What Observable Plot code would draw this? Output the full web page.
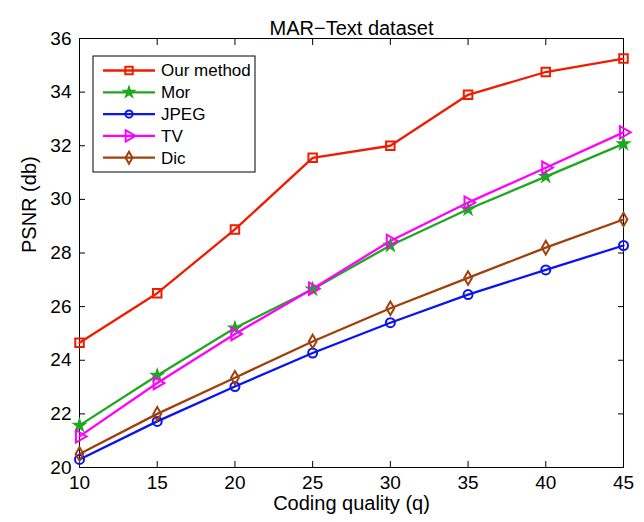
<!DOCTYPE html>
<html><head><meta charset="utf-8">
<script src="https://cdn.jsdelivr.net/npm/d3@7"></script>
<script src="https://cdn.jsdelivr.net/npm/@observablehq/plot@0.6"></script>
<style>body{margin:0;background:#fff}</style>
</head><body><div id="chart"></div>
<script>
const quality = [10, 15, 20, 25, 30, 35, 40, 45];
const seriesNames = ["Our method", "Mor", "JPEG", "TV", "Dic"];
const ourMethod = [24.65, 26.5, 28.88, 31.55, 32.0, 33.9, 34.75, 35.25];
const mor = [21.57, 23.43, 25.2, 26.65, 28.28, 29.63, 30.85, 32.07];
const jpeg = [20.3, 21.72, 23.02, 24.27, 25.4, 26.45, 27.37, 28.28];
const tv = [21.16, 23.15, 24.98, 26.67, 28.45, 29.88, 31.18, 32.5];
const dic = [20.5, 22.0, 23.35, 24.7, 25.94, 27.07, 28.2, 29.25];
const yTicks = [20, 22, 24, 26, 28, 30, 32, 34, 36];
const xTicks = [10, 15, 20, 25, 30, 35, 40, 45];
const colors = ["#f01c00", "#1fa81f", "#0a14f0", "#ff00ff", "#a0400a"];
const symbols = [d3.symbolSquare, d3.symbolStar, d3.symbolCircle, d3.symbolTriangle, d3.symbolDiamond];
const fills = ["none", "#1fa81f", "none", "none", "none"];
const rotates = [0, 0, 0, 90, 0];
const radii = [4.8, 3.7, 4.5, 4.6, 4.1];
const legendRadii = [4.2, 3.4, 3.6, 4.2, 3.6];
const values = [ourMethod, mor, jpeg, tv, dic];

const data = [];
seriesNames.forEach((s, i) => quality.forEach((q, j) => data.push({series: s, q, v: values[i][j], i})));

const font = "'Liberation Sans', Arial, sans-serif";
const marks = [
  Plot.frame({stroke: "#000", strokeWidth: 1}),
  Plot.axisX({ticks: xTicks, tickSize: -6, tickPadding: 14, fontSize: 19, label: null}),
  Plot.axisX({anchor: "top", ticks: xTicks, tickSize: -6, tickFormat: () => "", label: null}),
  Plot.axisY({ticks: yTicks, tickSize: -6, tickPadding: 14, fontSize: 19, label: null}),
  Plot.axisY({anchor: "right", ticks: yTicks, tickSize: -6, tickFormat: () => "", label: null}),
];
seriesNames.forEach((s, i) => {
  const d = data.filter(r => r.i === i);
  marks.push(Plot.line(d, {x: "q", y: "v", stroke: colors[i], strokeWidth: 2.3}));
});
seriesNames.forEach((s, i) => {
  const d = data.filter(r => r.i === i);
  marks.push(Plot.dot(d, {x: "q", y: "v", stroke: colors[i], fill: fills[i], strokeWidth: i === 1 ? 1.5 : 2,
    symbol: symbols[i], r: radii[i], rotate: rotates[i]}));
});
marks.push(Plot.text(["MAR\u2212Text dataset"], {frameAnchor: "top", dy: -18, fontSize: 20, fill: "#000"}));
marks.push(Plot.text(["Coding quality (q)"], {frameAnchor: "bottom", dy: 42, fontSize: 20, fill: "#000"}));
marks.push(Plot.text(["PSNR (db)"], {frameAnchor: "left", dx: -50, rotate: -90, fontSize: 20, fill: "#000"}));

const chart = Plot.plot({
  width: 644, height: 522,
  marginLeft: 79, marginRight: 21, marginTop: 38, marginBottom: 55,
  style: {fontFamily: font, fontSize: "16px", color: "#000", background: "#fff", overflow: "visible"},
  x: {domain: [10, 45]},
  y: {domain: [20, 36]},
  marks
});
document.getElementById("chart").append(chart);

// Legend
const svg = d3.select(chart);
const lg = svg.append("g").attr("font-family", font).attr("font-size", 17).attr("text-anchor", "start");
lg.append("rect").attr("x", 93).attr("y", 56).attr("width", 162).attr("height", 116)
  .attr("fill", "#fff").attr("stroke", "#000").attr("stroke-width", 1);
seriesNames.forEach((s, i) => {
  const y = 70.5 + i * 21.8;
  lg.append("line").attr("x1", 103).attr("x2", 155).attr("y1", y).attr("y2", y)
    .attr("stroke", colors[i]).attr("stroke-width", 2.3);
  const sz = legendRadii[i];
  lg.append("path").attr("d", d3.symbol(symbols[i], sz * sz * Math.PI)())
    .attr("transform", `translate(129,${y}) rotate(${rotates[i]})`)
    .attr("stroke", colors[i]).attr("fill", fills[i]).attr("stroke-width", i === 1 ? 1.5 : 2);
  lg.append("text").attr("x", 161).attr("y", y).attr("dy", "0.35em").attr("fill", "#000").text(s);
});
</script></body></html>
